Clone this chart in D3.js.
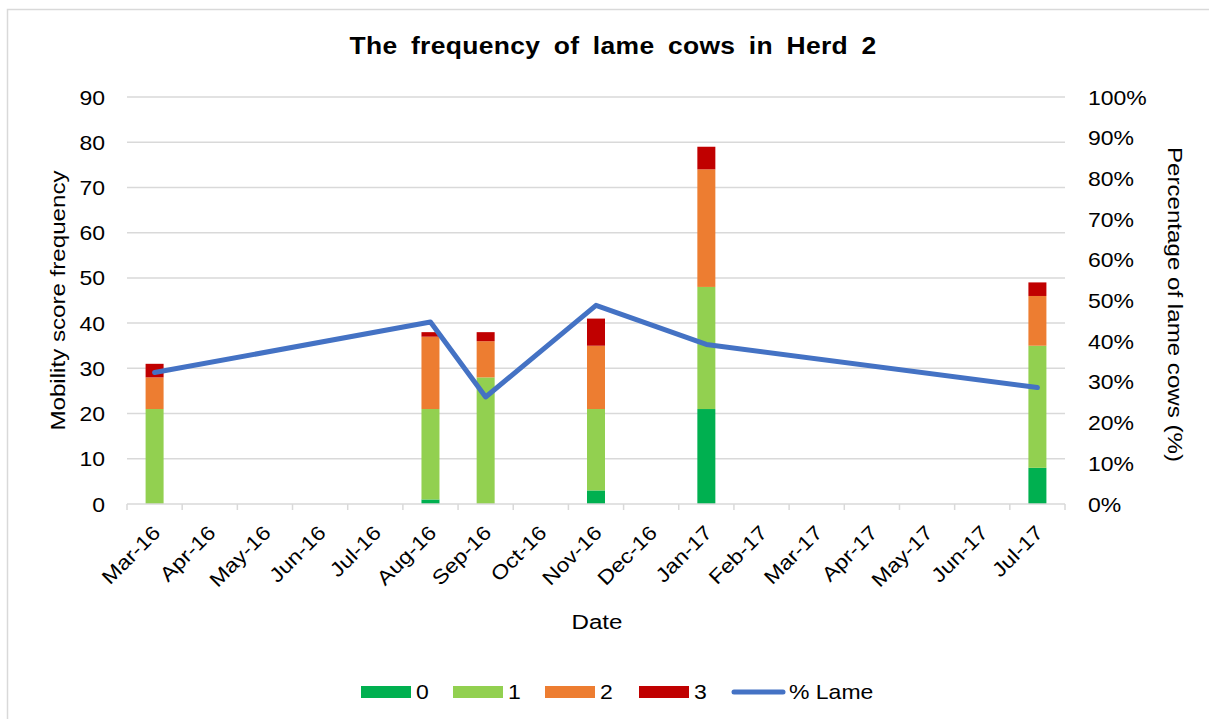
<!DOCTYPE html>
<html>
<head>
<meta charset="utf-8">
<script src="https://cdn.jsdelivr.net/npm/d3@7"></script>
<style>
  body { margin: 0; background: #fff; }
  text { font-family: "Liberation Sans", Arial, sans-serif; fill: #000; }
</style>
</head>
<body>
<script>
const months = ['Mar-16', 'Apr-16', 'May-16', 'Jun-16', 'Jul-16', 'Aug-16', 'Sep-16', 'Oct-16',
  'Nov-16', 'Dec-16', 'Jan-17', 'Feb-17', 'Mar-17', 'Apr-17', 'May-17', 'Jun-17', 'Jul-17']
const visits = ['Mar-16', 'Aug-16', 'Sep-16', 'Nov-16', 'Jan-17', 'Jul-17']
const score0 = [0, 1, 0, 3, 21, 8]
const score1 = [21, 20, 28, 18, 27, 27]
const score2 = [7, 16, 8, 14, 26, 11]
const score3 = [3, 1, 2, 6, 5, 3]
const lamePct = [32.3, 44.7, 26.3, 48.8, 39.2, 28.6]
const leftTicks = [0, 10, 20, 30, 40, 50, 60, 70, 80, 90]
const rightTicks = [0, 10, 20, 30, 40, 50, 60, 70, 80, 90, 100]

const seriesNames = ['0', '1', '2', '3']
const colors = ['#00B050', '#92D050', '#ED7D31', '#C00000']
const lineColor = '#4472C4'
const gridColor = '#D9D9D9'

const width = 1209
const height = 719
const plot = { left: 127, right: 1065, top: 97, bottom: 504 }
const sx = 1.15 // the original's text is drawn a bit wide
const fontSize = 20

const svg = d3.select('body').append('svg')
  .attr('width', width)
  .attr('height', height)

// chart frame (only top/left edges fall inside the picture)
svg.append('rect')
  .attr('x', 7.5).attr('y', 9.5)
  .attr('width', 1220).attr('height', 740)
  .attr('fill', 'none')
  .attr('stroke', gridColor)
  .attr('stroke-width', 1.5)

const xScale = d3.scaleBand()
  .domain(months)
  .range([plot.left, plot.right])

const yScale = d3.scaleLinear()
  .domain([0, 90])
  .range([plot.bottom, plot.top])

const y2Scale = d3.scaleLinear()
  .domain([0, 100])
  .range([plot.bottom, plot.top])

// widen axis labels in place
function stretchTicks(axisG, offset) {
  axisG.selectAll('text')
    .attr('font-size', fontSize)
    .attr('dy', '0.35em')
    .attr('x', offset / sx)
    .attr('transform', `scale(${sx}, 1)`)
}

// gridlines
svg.append('g')
  .selectAll('line')
  .data(leftTicks.slice(1))
  .join('line')
  .attr('x1', plot.left).attr('x2', plot.right)
  .attr('y1', d => yScale(d)).attr('y2', d => yScale(d))
  .attr('stroke', gridColor)
  .attr('stroke-width', 1.5)

// left axis
const leftAxis = svg.append('g')
  .attr('transform', `translate(${plot.left}, 0)`)
  .call(d3.axisLeft(yScale).tickValues(leftTicks).tickSize(0))
leftAxis.select('.domain').remove()
stretchTicks(leftAxis, -22)

// right axis
const rightAxis = svg.append('g')
  .attr('transform', `translate(${plot.right}, 0)`)
  .call(d3.axisRight(y2Scale).tickValues(rightTicks).tickSize(0)
    .tickFormat(d => d + '%'))
rightAxis.select('.domain').remove()
stretchTicks(rightAxis, 23)

// stacked bars
const table = visits.map((v, i) => ({
  date: v, '0': score0[i], '1': score1[i], '2': score2[i], '3': score3[i]
}))
const stacked = d3.stack().keys(seriesNames)(table)
const barWidth = 18

svg.append('g')
  .selectAll('g')
  .data(stacked)
  .join('g')
  .attr('fill', (d, i) => colors[i])
  .selectAll('rect')
  .data(d => d)
  .join('rect')
  .attr('x', d => xScale(d.data.date) + xScale.bandwidth() / 2 - barWidth / 2)
  .attr('width', barWidth)
  .attr('y', d => yScale(d[1]))
  .attr('height', d => yScale(d[0]) - yScale(d[1]))

// x axis line + ticks between months
svg.append('line')
  .attr('x1', plot.left).attr('x2', plot.right)
  .attr('y1', plot.bottom).attr('y2', plot.bottom)
  .attr('stroke', gridColor)
  .attr('stroke-width', 1.5)

svg.append('g')
  .selectAll('line')
  .data(months.concat(['end']))
  .join('line')
  .attr('x1', (d, i) => plot.left + i * xScale.step())
  .attr('x2', (d, i) => plot.left + i * xScale.step())
  .attr('y1', plot.bottom).attr('y2', plot.bottom + 6)
  .attr('stroke', gridColor)
  .attr('stroke-width', 1.5)

svg.append('g')
  .selectAll('text')
  .data(months)
  .join('text')
  .attr('text-anchor', 'end')
  .attr('font-size', fontSize)
  .attr('transform', d => `translate(${xScale(d) + xScale.bandwidth() / 2 + 7}, 534) rotate(-45) scale(${sx}, 1)`)
  .text(d => d)

// % lame line
const line = d3.line()
  .x((d, i) => xScale(visits[i]) + xScale.bandwidth() / 2)
  .y(d => y2Scale(d))

svg.append('path')
  .datum(lamePct)
  .attr('d', line)
  .attr('fill', 'none')
  .attr('stroke', lineColor)
  .attr('stroke-width', 5)
  .attr('stroke-linecap', 'round')
  .attr('stroke-linejoin', 'round')

// titles
svg.append('text')
  .attr('text-anchor', 'middle')
  .attr('font-size', 23)
  .attr('font-weight', 'bold')
  .attr('word-spacing', 5)
  .attr('letter-spacing', 0.3)
  .attr('transform', `translate(613, 54) scale(${sx}, 1)`)
  .text('The frequency of lame cows in Herd 2')

svg.append('text')
  .attr('text-anchor', 'middle')
  .attr('font-size', 21)
  .attr('transform', `translate(65, ${(plot.top + plot.bottom) / 2}) rotate(-90) scale(${sx}, 1)`)
  .text('Mobility score frequency')

svg.append('text')
  .attr('text-anchor', 'middle')
  .attr('font-size', 21)
  .attr('transform', `translate(1168, ${(plot.top + plot.bottom) / 2 + 4}) rotate(90) scale(${sx}, 1)`)
  .text('Percentage of lame cows (%)')

svg.append('text')
  .attr('text-anchor', 'middle')
  .attr('font-size', 21)
  .attr('transform', `translate(597, 629) scale(${sx}, 1)`)
  .text('Date')

// legend
const legend = svg.append('g')
  .attr('transform', 'translate(361, 692)')

const legendItems = legend.selectAll('g')
  .data(seriesNames)
  .join('g')
  .attr('transform', (d, i) => `translate(${[0, 92, 184, 278][i]}, 0)`)

legendItems.append('rect')
  .attr('x', 0).attr('y', -6)
  .attr('width', 50).attr('height', 12)
  .attr('fill', (d, i) => colors[i])

legendItems.append('text')
  .attr('font-size', fontSize)
  .attr('transform', `translate(55, 7) scale(${sx}, 1)`)
  .text(d => d)

const lameItem = legend.append('g')
  .attr('transform', 'translate(371, 0)')

lameItem.append('line')
  .attr('x1', 2).attr('x2', 51)
  .attr('y1', 0).attr('y2', 0)
  .attr('stroke', lineColor)
  .attr('stroke-width', 5)
  .attr('stroke-linecap', 'round')

lameItem.append('text')
  .attr('font-size', fontSize)
  .attr('transform', `translate(57, 7) scale(${sx}, 1)`)
  .text('% Lame')
</script>
</body>
</html>
